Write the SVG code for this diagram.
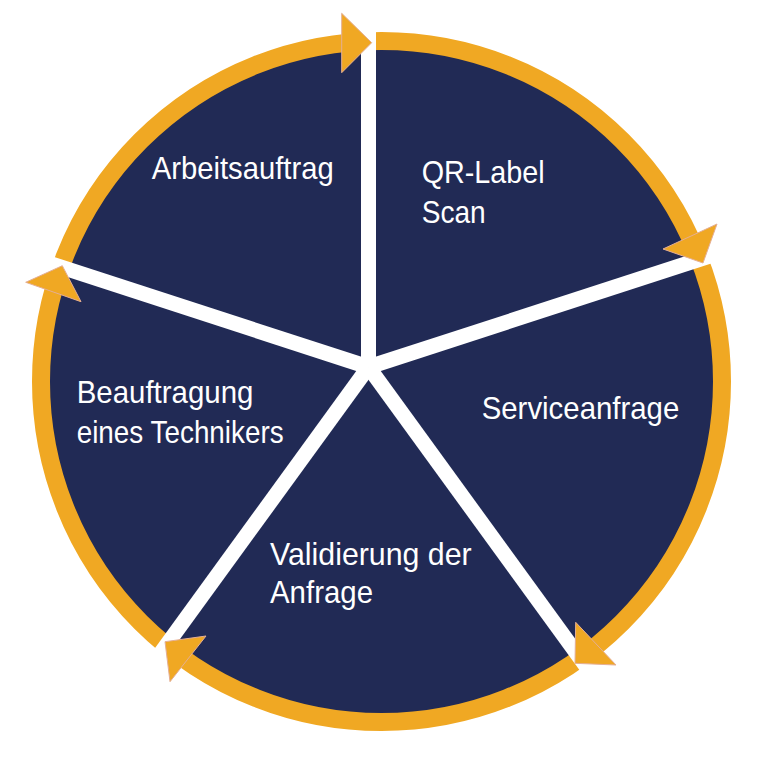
<svg xmlns="http://www.w3.org/2000/svg" width="760" height="760" viewBox="0 0 760 760">
  <style>
    .lbl { font-family: "Liberation Sans", Arial, sans-serif; font-size: 30.5px; fill: #ffffff; }
    .arrow { fill: #F0A823; stroke: #E4AE94; stroke-width: 1; stroke-linejoin: miter; }
    .sep { stroke: #ffffff; stroke-width: 15; stroke-linecap: butt; }
  </style>
  <rect width="760" height="760" fill="#ffffff"/>
  <g id="background">
    <circle cx="381.5" cy="381.5" r="334" fill="#212A55"/>
  </g>
  <g id="connectors">
    <circle cx="381.5" cy="381.5" r="340.5" fill="none" stroke="#F0A823" stroke-width="18"/>
    <g id="separators">
      <line class="sep" x1="368.5" y1="367" x2="368.5" y2="0"/>
      <line class="sep" x1="368.5" y1="367" x2="740.8" y2="246.0"/>
      <line class="sep" x1="368.5" y1="367" x2="598.6" y2="683.7"/>
      <line class="sep" x1="368.5" y1="367" x2="138.4" y2="683.7"/>
      <line class="sep" x1="368.5" y1="367" x2="-3.8" y2="246.0"/>
    </g>
    <polygon class="arrow" points="341.7,13.3 341.7,72.7 371.7,42.7"/>
    <polygon class="arrow" points="663,249 717,224 703,263"/>
    <polygon class="arrow" points="575.7,622.3 616,665 575,663.3"/>
    <polygon class="arrow" points="206,636 170,681.7 165,641.7"/>
    <polygon class="arrow" points="25.7,282.3 81,301.7 62.3,265.7"/>
  </g>
  <g id="node-arbeitsauftrag">
    <text class="lbl" x="151.7" y="179.3" textLength="182" lengthAdjust="spacingAndGlyphs">Arbeitsauftrag</text>
  </g>
  <g id="node-qr-label-scan">
    <text class="lbl" x="421.7" y="183.3" textLength="123" lengthAdjust="spacingAndGlyphs">QR-Label</text>
    <text class="lbl" x="421.7" y="222.7" textLength="64" lengthAdjust="spacingAndGlyphs">Scan</text>
  </g>
  <g id="node-serviceanfrage">
    <text class="lbl" x="481.7" y="419.3" textLength="197.6" lengthAdjust="spacingAndGlyphs">Serviceanfrage</text>
  </g>
  <g id="node-validierung">
    <text class="lbl" x="270" y="565" textLength="201.7" lengthAdjust="spacingAndGlyphs">Validierung der</text>
    <text class="lbl" x="270" y="603.3" textLength="103" lengthAdjust="spacingAndGlyphs">Anfrage</text>
  </g>
  <g id="node-beauftragung">
    <text class="lbl" x="76.7" y="403.3" textLength="176.7" lengthAdjust="spacingAndGlyphs">Beauftragung</text>
    <text class="lbl" x="76.7" y="442.7" textLength="207" lengthAdjust="spacingAndGlyphs">eines Technikers</text>
  </g>
</svg>
